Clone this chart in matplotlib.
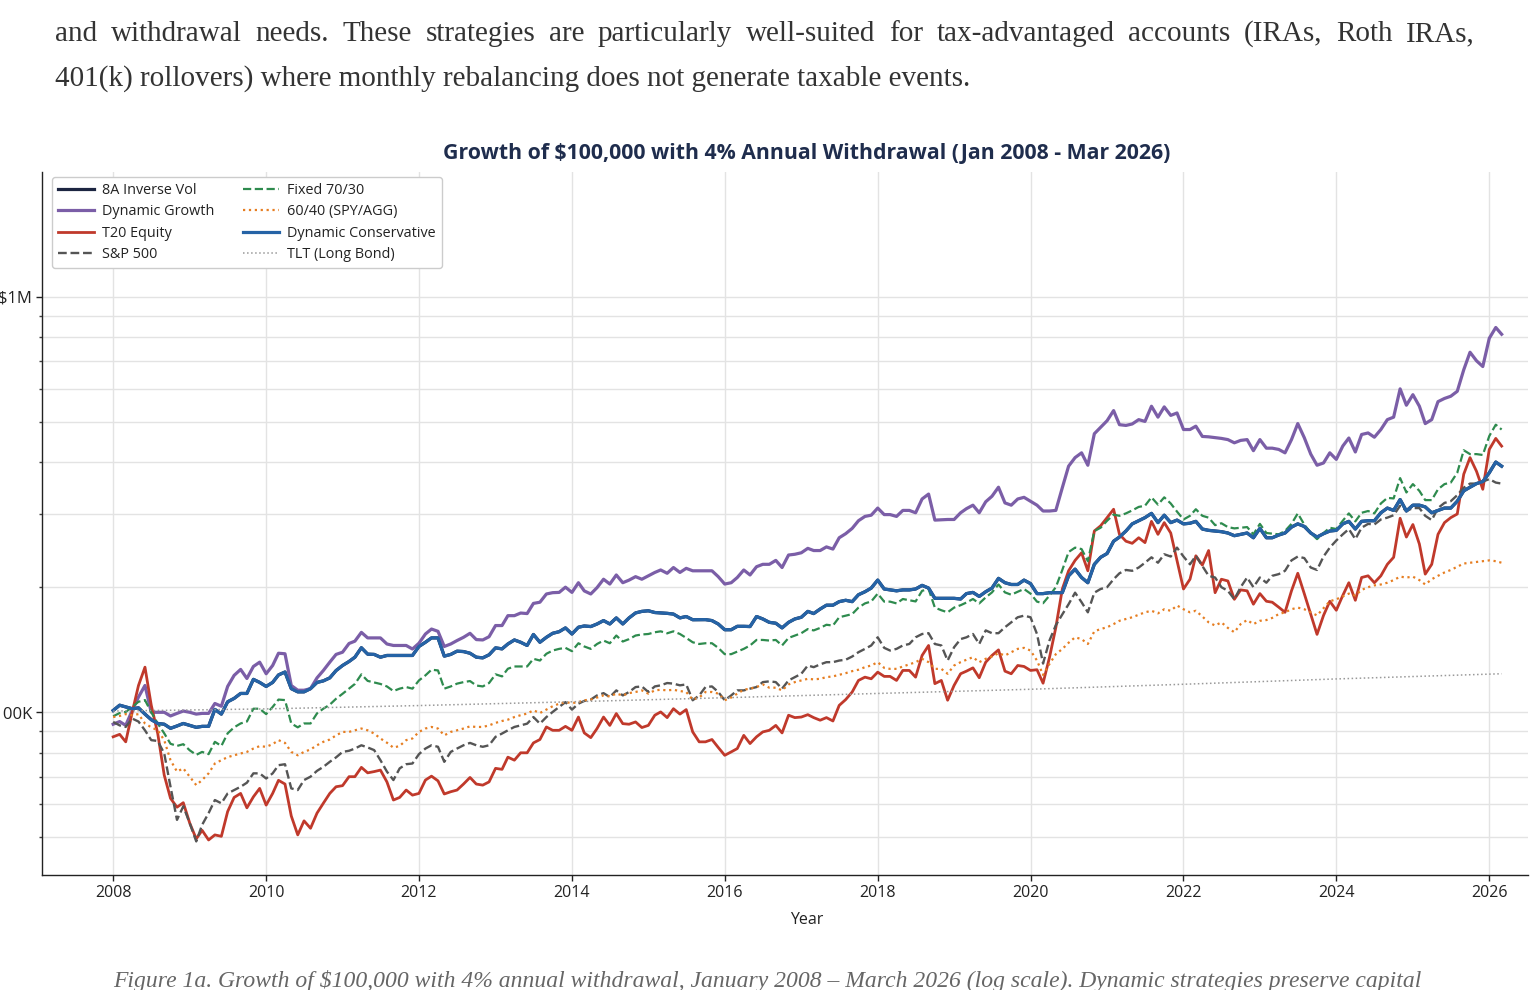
import numpy as np
import pandas as pd
import matplotlib
matplotlib.use("Agg")
import matplotlib.pyplot as plt
import matplotlib.ticker as mticker
import matplotlib.dates as mdates
from matplotlib import font_manager
from datetime import datetime

# ---------------- data (values in $K, monthly Jan 2008 - Mar 2026) ----------------
dyn_conservative = [
    101, 104, 103, 102, 102.5, 99, 96, 94, 93.6, 91.5, 92.7, 94,
    93, 92, 92.5, 92.5, 101.6, 99, 106, 108, 111, 111, 120, 118,
    115.4, 118, 123, 125, 114, 112, 112, 114, 118, 119, 121, 126,
    129.6, 132.5, 135.7, 143, 138, 137.8, 135.7, 137, 137, 137, 137, 137,
    144, 147.4, 151, 151, 136.5, 137.8, 140.3, 140, 138.7, 135.7, 135.2, 137.5,
    142.9, 142.1, 146, 149.3, 147.4, 144.8, 153.9, 147.4, 151.5, 154.9, 156.3, 159.6,
    154.3, 160.2, 161.3, 160.8, 163.1, 166.2, 163.1, 168.7, 163.1, 168.7, 173.4, 174.9,
    175.5, 173.8, 173.4, 173, 172.3, 168.7, 170, 167, 167.1, 167.1, 166.2, 163.1,
    158, 158, 161, 161, 160.8, 170, 167.7, 164.6, 163.8, 159.6, 164.6, 167.7,
    169.3, 174.9, 172.8, 177.2, 181, 181, 184.6, 186, 184.6, 191.8, 195, 199,
    208, 198, 197, 196, 197, 197, 198, 202, 199, 188, 188, 188,
    188, 187.3, 193, 194.3, 190, 195, 199, 210, 205, 203, 203, 208,
    204, 193, 193, 194, 194, 194, 213, 221, 211, 205, 227, 236,
    241, 258, 264, 273, 284, 289, 294, 301, 286, 298, 286, 290,
    284, 285, 288, 276, 274, 273, 272, 270, 266, 268, 270, 263,
    277, 263, 263, 267, 270, 279, 284, 280, 270, 264, 269, 273,
    274, 284, 288, 276, 288, 289, 289, 302, 310, 306, 325, 305,
    315, 315, 312, 302, 306, 310, 310, 322, 341, 348, 355, 359,
    377, 400, 391,
]
inverse_vol_8a = list(dyn_conservative)

dyn_growth = [
    93.6, 95, 93, 101, 108.8, 116, 100, 100, 100, 98, 99.4, 100.7,
    100, 99, 99.4, 99.4, 105, 103.4, 115.4, 122.7, 126.8, 120.6, 128.9, 132,
    123.8, 129.6, 138.7, 138.3, 116, 113, 113, 114, 121, 126, 132, 137.8,
    139.5, 146.4, 148.3, 155.7, 151, 151, 151, 146, 144.8, 144.8, 144.8, 142,
    146.6, 154.3, 158.6, 156.6, 144, 146, 148.8, 151.5, 154.9, 149.6, 149.3, 152,
    161.7, 161.7, 170.8, 170.8, 173.3, 172.8, 182.8, 184, 192.6, 194, 194.3, 200,
    194.3, 205, 195.9, 192.6, 199.5, 209, 203.5, 214, 205, 208, 212, 209,
    213, 217, 220, 216, 223, 217, 222, 219, 219, 219, 219, 212,
    203.5, 205, 211, 220, 214, 224, 227, 227, 232, 223, 239, 240,
    242, 248, 245, 245, 250, 247, 263, 269, 277, 289, 296, 298,
    310, 299, 299, 296, 306, 306, 302, 326, 335, 290, 290.5, 291,
    291, 302, 309, 315, 302, 321, 331, 348, 319, 315, 326, 329,
    322, 315, 305, 305, 306, 347, 391, 410, 421, 393, 468, 485,
    503, 532, 492, 490, 494, 506, 501, 545, 513, 543, 518, 525,
    479, 479, 488, 461, 460, 458, 456, 453, 445, 451, 453, 426,
    453, 432, 432, 429, 421, 453, 495, 458, 418, 393, 398, 421,
    406, 437, 457, 423, 466, 470, 459, 479, 506, 513, 600, 548,
    581, 545, 495, 506, 559, 569, 576, 592, 667, 735, 701, 679,
    794, 843, 812,
]

fixed_70_30 = [
    97.8, 99.6, 100.2, 103, 106, 107, 100, 94, 89, 84, 83, 83.8,
    81, 79, 80.3, 79.3, 84.9, 83, 89, 92, 94, 95, 102, 102,
    99, 103, 107.3, 107, 94, 92, 94, 94, 99.4, 102, 104.3, 107.8,
    110.8, 114, 117, 123.4, 119, 118, 117, 115.4, 112.5, 114, 115, 114,
    119.3, 122.7, 126.6, 126.1, 114, 115.4, 117.2, 118.2, 118.9, 116, 115.4, 117.6,
    123.4, 122, 127.3, 128.9, 128.9, 128.9, 134.5, 133.2, 138.3, 140.8, 142.1, 142.9,
    140.3, 146.6, 144, 142.1, 146, 148.8, 146.6, 153, 148, 150, 153, 153.9,
    154.3, 155.8, 156.6, 154.9, 156.6, 154.3, 151, 147.4, 146, 146.6, 146.6, 142.9,
    138, 138, 140, 142.1, 144.8, 149.3, 149.3, 148.8, 149.3, 144.8, 151, 153,
    155, 158.6, 157.4, 159.6, 162.4, 161.7, 169.3, 170.8, 172.3, 178.6, 182.8, 184.8,
    193, 184.6, 184.6, 182.8, 187.3, 186, 184.8, 196, 198, 178.6, 176, 174,
    178.6, 181, 183.7, 187.3, 182.8, 189, 194.3, 203, 194.3, 191.8, 195, 198,
    193, 184.6, 183, 191, 200, 220, 243, 249, 247, 231, 273, 278,
    289, 299, 297, 301, 306, 312, 314, 329, 316, 329, 318, 304,
    291, 297, 308, 297, 294, 282, 285, 279, 277, 278, 279, 268,
    284, 270, 269, 268, 273, 284, 301, 283, 270, 261, 270, 278,
    276, 289, 301, 288, 302, 305, 301, 318, 328, 327, 366, 338,
    354, 341, 324, 324, 344, 354, 357, 377, 427, 418, 418, 416,
    462, 492, 479,
]

sp500 = [
    94.8, 93, 92.2, 96.6, 95, 90.5, 85.7, 85.3, 79.6, 66.2, 55.1, 59.4,
    54.1, 48.9, 53.6, 57.2, 61.5, 60.4, 63.8, 65, 66.2, 67.7, 71.3, 71.3,
    69.3, 71.3, 74.6, 75, 65.6, 65, 68.7, 70, 72.3, 73.9, 76, 77.9,
    80.3, 80.8, 81.8, 83.3, 82.3, 81.1, 76.7, 72, 68.7, 73.3, 75, 75.3,
    79.3, 81.8, 83.3, 82.6, 76, 80.3, 81.8, 83.3, 84.4, 83.3, 82.6, 83.3,
    87.3, 88.9, 90.5, 92.2, 93, 93.9, 97.4, 93.9, 97.4, 100.2, 103, 105.8,
    101.5, 104.9, 106.5, 107.3, 109.8, 111.2, 108.8, 112.9, 109.8, 111.9, 115, 115.4,
    111.9, 115.4, 116.1, 117.6, 117.2, 116.1, 116.7, 106.9, 109.8, 115, 115.4, 111.9,
    106.9, 109.8, 112.9, 112.9, 114, 115, 118.2, 118.7, 118.2, 114, 119.3, 121.5,
    123.8, 129.6, 128.4, 130.4, 132, 132, 133.2, 133.8, 136.2, 139.5, 142.1, 144.8,
    151.5, 142.9, 140.8, 142.1, 144.8, 146, 151.5, 154.3, 155, 146, 144.8, 133.2,
    143.4, 150, 151.5, 154.3, 146, 157.4, 155, 155, 160.2, 164.6, 169.3, 170.8,
    169.3, 154.3, 131, 149, 162, 172, 182, 194, 184, 174, 194, 198,
    200, 209, 216, 220, 219, 223, 229, 236, 229, 240, 237, 249,
    237, 227, 238, 225, 213, 211, 200, 196, 187, 200, 211, 200,
    211, 205, 213, 215, 219, 232, 237, 235, 223, 220, 237, 249,
    259, 268, 276, 261, 278, 284, 283, 291, 294, 298, 314, 305,
    310, 310, 297, 290, 310, 319, 322, 333, 347, 355, 355, 359,
    364, 357, 355,
]

spy_agg_60_40 = [
    97.4, 98, 99, 98.4, 99, 94, 92, 90.5, 85.7, 76.7, 72, 73.3,
    70, 66.8, 68.7, 71.3, 75.3, 76.7, 78, 78.8, 79.6, 80.3, 81.8, 82.9,
    82.6, 83.8, 85.7, 84.4, 80.3, 78.8, 80.3, 81.4, 83.3, 84.9, 86, 88,
    89.7, 89.7, 90.5, 91.4, 90.5, 88.9, 86.5, 84.5, 82.2, 83, 85.7, 86.5,
    89.7, 91.4, 92.2, 91.4, 88, 89.7, 90.5, 91.4, 92.5, 92.2, 92.2, 93,
    94.3, 95.3, 96, 97.4, 98.4, 99.3, 101.1, 99.6, 101.5, 103.4, 104.9, 105.8,
    105.2, 105.8, 106.9, 107.3, 108.5, 109.8, 109.2, 110.9, 109.8, 111.2, 111.9, 112.9,
    110.9, 112.9, 113.3, 112.9, 113.3, 112.5, 111.9, 107.3, 108.5, 111.9, 111.9, 110.9,
    106.9, 108.5, 110.9, 113.3, 114, 115, 116.7, 114.6, 114.6, 112.9, 116.7, 118.2,
    119.3, 120.4, 120, 120.4, 121.5, 122, 123.1, 124.2, 125.6, 126.6, 128.4, 129.6,
    132, 127.9, 127.2, 127.2, 128.9, 130.4, 132, 134.5, 132, 127.2, 127.2, 123.8,
    129.6, 132, 133.8, 135.7, 132, 134.5, 136.2, 138.7, 137, 139.5, 142.1, 142.9,
    140.8, 133.2, 123, 130.8, 138, 142, 147, 151.5, 150, 146, 156.6, 158.6,
    160.2, 163, 166, 167.7, 169.3, 171.7, 174, 175.5, 173, 177, 175.5, 180.7,
    177, 174, 175.5, 170, 164.6, 161.7, 164.6, 159.6, 155.8, 163, 166.7, 163,
    166, 166.7, 168.7, 172.3, 174, 177, 178.6, 177, 174, 171, 178, 185,
    187, 190, 193, 191, 197, 200, 202, 203, 205, 208, 212, 211,
    212, 208, 203, 209, 213, 217, 220, 224, 228, 229, 230, 231,
    232, 231, 229,
]

t20_equity = [
    87.3, 88.5, 84.9, 100, 116, 128.4, 104, 88.9, 70.6, 62.1, 59.1, 60.6,
    54.1, 49.6, 52, 49.3, 50.7, 50.3, 57.7, 62.4, 63.8, 58.9, 62.6, 65.6,
    59.8, 63.8, 68.6, 67.2, 56.3, 50.7, 54.8, 52.6, 57.2, 60.4, 63.8, 66.2,
    66.6, 70, 70, 73.7, 71.5, 72, 72.6, 68, 61.5, 62.4, 65, 63.2,
    63.8, 68.7, 70.2, 68.4, 63.6, 64.4, 65, 67.2, 69.7, 67.2, 66.8, 68,
    73.3, 72.9, 78, 76.7, 79.9, 79.9, 84.4, 86, 92.2, 90.5, 90.5, 92.5,
    90.5, 97.4, 89.2, 86.9, 91.4, 97.4, 93, 99.3, 93.9, 93.6, 94.8, 91.9,
    93, 98.4, 100.2, 97.1, 102, 99, 101.5, 89.7, 84.9, 84.9, 86, 82.3,
    78.8, 80.3, 81.8, 88, 84.1, 87.3, 89.7, 90.5, 93, 89.2, 98.4, 97.1,
    97.4, 98.7, 97.1, 95.7, 97.1, 95.3, 103.9, 107.3, 111.9, 119.3, 121.5, 120.4,
    124.9, 122, 122, 119.3, 126.1, 126.1, 121.5, 137, 144.8, 117.2, 119.3, 106.9,
    116.1, 123.8, 125.6, 127.9, 121.1, 132, 137, 141.3, 125.6, 123.8, 129.6, 128.9,
    126.1, 126.6, 117.5, 135.7, 160, 198, 219, 232, 242, 219, 273, 281,
    294, 308, 268, 258, 255, 263, 256, 288, 268, 286, 270, 232,
    198, 209, 238, 226, 245, 194, 209, 207, 187, 197, 196, 182,
    193, 185, 184, 179, 174, 196, 216, 193, 172, 154, 171, 185,
    176, 191, 205, 186, 211, 213, 205, 213, 227, 236, 293, 264,
    283, 254, 215, 227, 268, 286, 294, 300, 374, 410, 380, 344,
    429, 456, 437,
]

tlt_dates = ["2008-01-01", "2010-01-01", "2012-01-01", "2014-01-01", "2016-01-01",
             "2018-01-01", "2020-01-01", "2022-01-01", "2024-01-01", "2026-03-01"]
tlt_long_bond = [100.7, 101.9, 103.8, 106.0, 108.4, 111.0, 113.6, 116.8, 120.3, 123.8]

series_names = ["8A Inverse Vol", "Dynamic Growth", "T20 Equity", "S&P 500",
                "Fixed 70/30", "60/40 (SPY/AGG)", "Dynamic Conservative", "TLT (Long Bond)"]

title_text = "Growth of $100,000 with 4% Annual Withdrawal (Jan 2008 - Mar 2026)"
para_line1 = ("and withdrawal needs. These strategies are particularly well-suited for "
              "tax-advantaged accounts (IRAs, Roth IRAs,")
para_line2 = "401(k) rollovers) where monthly rebalancing does not generate taxable events."
caption_text = ("Figure 1a. Growth of $100,000 with 4% annual withdrawal, January 2008 \u2013 "
                "March 2026 (log scale). Dynamic strategies preserve capital")

for s in (dyn_conservative, dyn_growth, fixed_70_30, sp500, spy_agg_60_40, t20_equity):
    assert len(s) == 219, len(s)

dates = pd.date_range("2008-01-01", periods=219, freq="MS")

# ---------------- fonts ----------------
available = {f.name for f in font_manager.fontManager.ttflist}
bold_ok = {f.name for f in font_manager.fontManager.ttflist
           if f.weight in (600, 700, "bold", "semibold")}
chart_font = [f for f in ["Open Sans", "Noto Sans"] if f in available] + ["DejaVu Sans"]
title_font = [f for f in ["Open Sans", "Noto Sans", "Lato", "Roboto"] if f in bold_ok] + ["DejaVu Sans"]
serif_font = ["Liberation Serif", "DejaVu Serif"]

# ---------------- figure ----------------
W, H = 1530, 990
fig = plt.figure(figsize=(W / 100, H / 100), dpi=100)
fig.patch.set_facecolor("white")

ax_l, ax_r, ax_t, ax_b = 42, 1528, 172, 875
ax = fig.add_axes([ax_l / W, 1 - ax_b / H, (ax_r - ax_l) / W, (ax_b - ax_t) / H])

styles = [
    (inverse_vol_8a, "#1c2541", "-", 2.3),
    (dyn_growth, "#7b5ea7", "-", 2.3),
    (t20_equity, "#c0392b", "-", 2.0),
    (sp500, "#555555", "--", 1.7),
    (fixed_70_30, "#2e8b4e", "--", 1.6),
    (spy_agg_60_40, "#e67e22", ":", 1.6),
    (dyn_conservative, "#2563a6", "-", 2.3),
]
for (vals, col, ls, lw), name in zip(styles, series_names[:7]):
    ax.plot(dates, np.array(vals) * 1000, color=col, linestyle=ls, linewidth=lw, label=name)
ax.plot(pd.to_datetime(tlt_dates), np.array(tlt_long_bond) * 1000, color="#999999",
        linestyle=":", linewidth=1.1, label=series_names[7])

ax.set_yscale("log")
ax.set_ylim(40600, 1.995e6)
ax.set_xlim(datetime(2007, 1, 26), datetime(2026, 7, 5))

ax.yaxis.set_major_locator(mticker.LogLocator(base=10))
ax.yaxis.set_minor_locator(mticker.LogLocator(base=10, subs=np.arange(2, 10)))


def yfmt(v, pos):
    if v >= 1e6:
        return "$%gM" % (v / 1e6)
    return "$%gK" % (v / 1e3)


ax.yaxis.set_major_formatter(mticker.FuncFormatter(yfmt))
ax.yaxis.set_minor_formatter(mticker.NullFormatter())

ax.xaxis.set_major_locator(mdates.YearLocator(2))
ax.xaxis.set_major_formatter(mdates.DateFormatter("%Y"))

ax.grid(True, which="major", color="#e3e3e3", linewidth=1.0)
ax.grid(True, which="minor", axis="y", color="#e3e3e3", linewidth=1.0)
ax.set_axisbelow(True)

for sp in ("top", "right"):
    ax.spines[sp].set_visible(False)
for sp in ("left", "bottom"):
    ax.spines[sp].set_color("#222222")
    ax.spines[sp].set_linewidth(1.0)

ax.tick_params(axis="both", which="major", length=4, width=1, color="#222222",
               labelcolor="#222222", pad=3)
ax.tick_params(axis="x", which="major", labelsize=11.5)
ax.tick_params(axis="y", which="major", labelsize=12)
ax.tick_params(axis="y", which="minor", length=2, width=1, color="#444444")
for lab in ax.get_xticklabels() + ax.get_yticklabels():
    lab.set_family(chart_font)

ax.set_xlabel("Year", fontsize=11.5, color="#222222", family=chart_font)
ax.xaxis.set_label_coords((807 - ax_l) / (ax_r - ax_l), -0.052)

fig.text(807 / W, 1 - 154 / H, title_text, ha="center", va="center", fontsize=15.3,
         fontweight="bold", color="#1f2d4d", family=title_font)

leg = ax.legend(loc="upper left",
                bbox_to_anchor=((52 - ax_l) / (ax_r - ax_l), 1 - (177 - ax_t) / (ax_b - ax_t)),
                borderaxespad=0, ncol=2, frameon=True, fancybox=True,
                handlelength=2.5, handletextpad=0.55, columnspacing=2.0, labelspacing=0.45,
                prop={"family": chart_font, "size": 10.4})
leg.get_frame().set_edgecolor("#cccccc")
leg.get_frame().set_linewidth(1.0)
leg.get_frame().set_alpha(1.0)
for t in leg.get_texts():
    t.set_color("#222222")

# ---------------- surrounding document text ----------------
renderer = fig.canvas.get_renderer()


def measure(txt, size, style="normal"):
    t = fig.text(0, 0, txt, fontsize=size, family=serif_font, style=style)
    w = t.get_window_extent(renderer).width
    t.remove()
    return w


body_color = "#333333"
ref = 20.0
body_size = ref * (971 - 55) / measure(para_line2, ref)

words = para_line1.split(" ")
widths = [measure(w_, body_size) for w_ in words]
gap = ((1475 - 55) - sum(widths)) / (len(words) - 1)
xcur = 55
for w_, wd in zip(words, widths):
    fig.text(xcur / W, 1 - 41 / H, w_, fontsize=body_size, family=serif_font,
             color=body_color, ha="left", va="baseline")
    xcur += wd + gap

fig.text(55 / W, 1 - 86 / H, para_line2, fontsize=body_size, family=serif_font,
         color=body_color, ha="left", va="baseline")

cap_size = ref * (1416 - 113) / measure(caption_text, ref, "italic")
fig.text(113 / W, 1 - 987 / H, caption_text, fontsize=cap_size, family=serif_font,
         style="italic", color="#666666", ha="left", va="baseline")

fig.savefig("out.png", dpi=100, facecolor="white")
